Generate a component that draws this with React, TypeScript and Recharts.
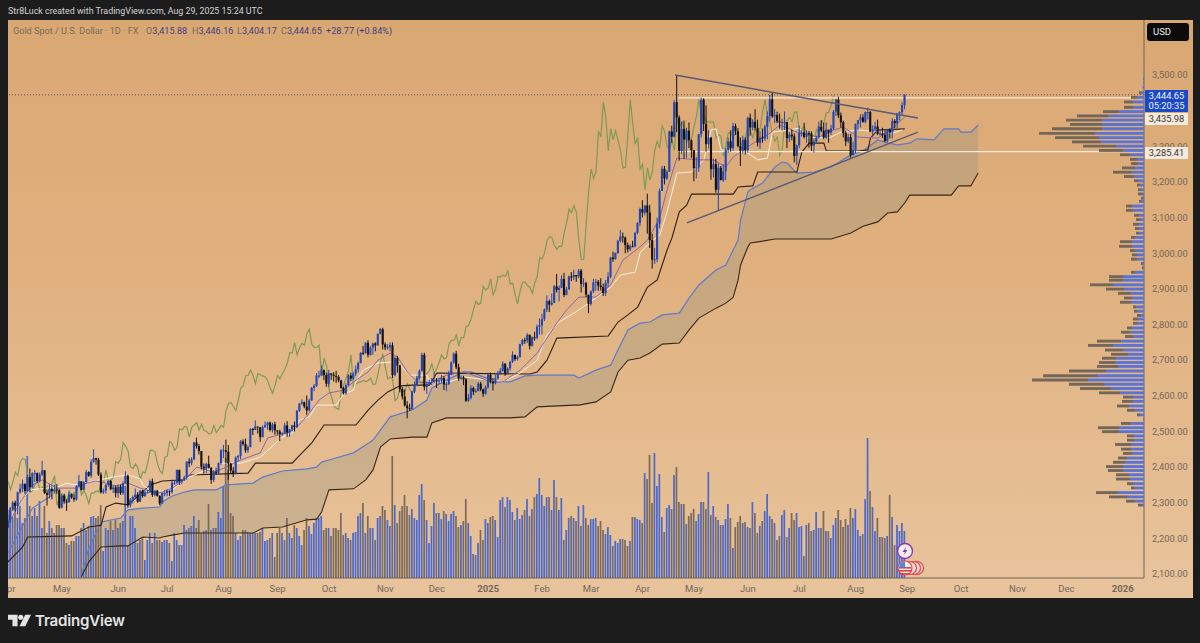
import {
  Area,
  Bar,
  BarChart,
  ComposedChart,
  Line,
  ReferenceLine,
  XAxis,
  YAxis,
} from "recharts";

// daily candles, Apr 2024 -> Aug 2025, one line per month
const opens = [
  2230,2250,2280,2300,2291,2329,2339,2353,2333,2372,2344,2383,2383,2361,2379,2391,2327,2322,2338,2332,2337,2335,
  2286,2320,2303,2302,2323,2314,2309,2346,2360,2336,2358,2386,2376,2415,2425,2421,2379,2329,2334,2350,2361,2338,2343,
  2327,2345,2327,2355,2376,2293,2310,2316,2323,2303,2333,2319,2329,2329,2360,2322,2334,2319,2298,2327,
  2327,2333,2330,2356,2356,2392,2359,2364,2371,2415,2411,2422,2469,2459,2445,2401,2396,2409,2398,2364,2387,2384,2411,
  2447,2447,2443,2410,2390,2382,2427,2431,2472,2465,2447,2456,2507,2504,2514,2512,2484,2512,2518,2525,2504,2520,
  2503,2500,2493,2495,2517,2497,2506,2517,2512,2558,2578,2582,2570,2559,2587,2622,2628,2657,2657,2672,2658,
  2634,2663,2659,2656,2653,2643,2622,2607,2630,2657,2648,2662,2674,2692,2721,2720,2749,2715,2735,2747,2742,2774,2787,
  2744,2736,2736,2742,2658,2706,2685,2619,2598,2573,2565,2562,2612,2631,2650,2670,2715,2625,2633,2638,2639,
  2643,2640,2643,2650,2632,2633,2660,2694,2718,2680,2648,2652,2646,2586,2594,2622,2612,2613,2634,2618,2606,
  2624,2659,2640,2635,2649,2663,2670,2690,2663,2677,2695,2715,2703,2708,2745,2756,2755,2771,2740,2764,2763,2794,
  2798,2815,2842,2866,2856,2861,2907,2897,2903,2928,2883,2899,2935,2933,2939,2935,2951,2914,2916,2884,
  2858,2893,2918,2920,2909,2905,2888,2917,2934,2988,2984,3001,3035,3047,3044,3023,3011,3020,3019,3057,3085,
  3124,3114,3134,3114,3037,2982,2983,3083,3175,3237,3210,3229,3342,3327,3424,3381,3287,3349,3319,3344,3317,
  3289,3239,3241,3334,3431,3363,3306,3325,3236,3250,3178,3240,3205,3230,3290,3314,3295,3357,3342,3301,3288,3318,
  3289,3380,3353,3369,3352,3310,3325,3322,3355,3385,3432,3384,3388,3370,3368,3368,3368,3323,3333,3328,3273,
  3303,3338,3339,3326,3337,3336,3302,3313,3325,3355,3344,3324,3347,3339,3350,3397,3431,3387,3368,3337,3314,3326,3275,
  3290,3363,3373,3381,3369,3396,3396,3341,3348,3356,3335,3336,3332,3315,3347,3339,3371,3365,3393,3396,3415.88,
];
const highs = [
  2266,2288,2305,2306,2331,2353,2365,2354,2379,2396,2385,2392,2385,2385,2417,2392,2335,2352,2345,2350,2352,2339,
  2326,2325,2310,2331,2326,2325,2349,2378,2360,2360,2392,2388,2422,2450,2426,2426,2385,2340,2352,2362,2364,2349,2349,
  2351,2351,2360,2388,2379,2313,2320,2340,2330,2336,2336,2333,2336,2365,2368,2335,2336,2321,2330,2335,
  2338,2335,2365,2364,2393,2393,2366,2376,2417,2425,2428,2471,2483,2465,2445,2410,2412,2432,2400,2392,2398,2413,2451,
  2462,2477,2462,2412,2400,2430,2434,2476,2478,2480,2461,2509,2510,2531,2513,2510,2517,2528,2527,2528,2525,2527,
  2504,2505,2498,2524,2529,2507,2519,2528,2560,2580,2590,2584,2601,2592,2625,2633,2664,2670,2685,2674,2665,
  2673,2663,2666,2670,2658,2645,2625,2635,2661,2665,2666,2685,2696,2722,2740,2750,2756,2740,2749,2750,2775,2790,2791,
  2750,2745,2750,2750,2710,2712,2687,2625,2618,2585,2578,2614,2640,2656,2674,2721,2721,2640,2645,2650,2665,
  2650,2650,2658,2655,2640,2670,2697,2722,2726,2690,2657,2656,2650,2605,2630,2626,2620,2639,2639,2620,2629,
  2665,2665,2650,2660,2670,2678,2697,2692,2680,2698,2725,2715,2713,2746,2760,2763,2776,2772,2767,2780,2800,2817,
  2830,2845,2882,2870,2887,2911,2942,2910,2938,2945,2905,2937,2947,2954,2939,2956,2956,2930,2920,2880,
  2895,2928,2928,2925,2930,2915,2925,2947,2990,3005,3002,3038,3065,3058,3047,3030,3025,3035,3060,3087,3128,
  3149,3135,3167,3136,3055,3015,3100,3181,3245,3245,3233,3344,3358,3430,3500,3387,3370,3372,3352,3367,3320,
  3290,3270,3335,3437,3435,3415,3345,3325,3265,3265,3252,3245,3250,3295,3325,3345,3366,3364,3351,3325,3330,3325,
  3383,3392,3376,3404,3375,3342,3350,3360,3398,3445,3452,3405,3397,3392,3378,3398,3368,3340,3348,3336,3305,
  3358,3345,3366,3345,3343,3342,3317,3330,3369,3374,3366,3367,3345,3360,3402,3433,3439,3395,3372,3344,3335,3335,3313,
  3364,3374,3390,3390,3398,3409,3399,3359,3369,3375,3348,3352,3345,3349,3351,3379,3376,3394,3398,3424,3446.16,
];
const lows = [
  2228,2243,2277,2275,2267,2325,2330,2325,2332,2330,2340,2358,2356,2357,2375,2325,2292,2312,2310,2325,2325,2283,
  2284,2297,2277,2300,2311,2303,2306,2345,2334,2337,2353,2373,2370,2412,2407,2375,2326,2325,2326,2345,2335,2327,2315,
  2314,2322,2322,2354,2286,2287,2298,2311,2300,2302,2314,2316,2326,2328,2316,2318,2317,2293,2297,2318,
  2318,2319,2325,2350,2353,2350,2352,2361,2365,2400,2405,2420,2452,2435,2393,2382,2383,2396,2353,2358,2378,2380,2406,
  2425,2410,2364,2380,2372,2380,2416,2422,2460,2440,2440,2456,2490,2504,2494,2471,2484,2510,2505,2500,2497,2491,
  2491,2473,2488,2493,2485,2485,2500,2500,2511,2555,2575,2565,2547,2556,2586,2613,2625,2650,2655,2644,2625,
  2625,2645,2640,2636,2638,2620,2604,2603,2628,2641,2645,2655,2665,2691,2714,2718,2708,2713,2715,2725,2740,2772,2730,
  2728,2730,2725,2650,2655,2665,2610,2590,2570,2537,2558,2562,2608,2627,2646,2668,2615,2605,2630,2630,2635,
  2622,2632,2634,2616,2613,2630,2658,2690,2675,2642,2646,2630,2583,2583,2590,2602,2609,2613,2613,2597,2603,
  2620,2635,2615,2632,2645,2660,2668,2656,2662,2670,2692,2698,2699,2708,2740,2746,2748,2730,2738,2755,2759,2772,
  2772,2810,2835,2835,2853,2860,2890,2865,2902,2877,2882,2897,2922,2925,2920,2930,2890,2905,2877,2832,
  2853,2888,2895,2895,2895,2880,2880,2905,2930,2976,2982,2998,3030,3030,3000,3002,3006,3017,3017,3053,3076,
  3100,3106,3055,3015,2957,2970,2975,3070,3175,3193,3205,3228,3310,3325,3340,3260,3278,3265,3268,3295,3268,
  3202,3210,3228,3325,3343,3285,3294,3206,3213,3170,3120,3205,3200,3205,3282,3285,3287,3332,3297,3245,3280,3277,
  3282,3330,3345,3345,3300,3293,3310,3315,3320,3370,3380,3365,3365,3350,3345,3346,3295,3312,3317,3255,3247,
  3295,3328,3322,3310,3296,3287,3282,3311,3322,3340,3320,3320,3310,3332,3346,3385,3380,3352,3325,3301,3309,3268,3281,
  3281,3345,3353,3366,3365,3375,3340,3332,3340,3332,3330,3323,3312,3311,3322,3322,3351,3351,3373,3385,3404.17,
];
const closes = [
  2250,2280,2300,2291,2329,2339,2353,2333,2372,2344,2383,2383,2361,2379,2391,2327,2322,2338,2332,2337,2335,2286,
  2320,2303,2302,2323,2314,2309,2346,2360,2336,2358,2386,2376,2415,2425,2421,2379,2329,2334,2350,2361,2338,2343,2327,
  2345,2327,2355,2376,2293,2310,2316,2323,2303,2333,2319,2329,2329,2360,2322,2334,2319,2298,2327,2327,
  2333,2330,2356,2356,2392,2359,2364,2371,2415,2411,2422,2469,2459,2445,2401,2396,2409,2398,2364,2387,2384,2411,2447,
  2447,2443,2410,2390,2382,2427,2431,2472,2465,2447,2456,2507,2504,2514,2512,2484,2512,2518,2525,2504,2520,2503,
  2500,2493,2495,2517,2497,2506,2517,2512,2558,2578,2582,2570,2559,2587,2622,2628,2657,2657,2672,2658,2634,
  2663,2659,2656,2653,2643,2622,2607,2630,2657,2648,2662,2674,2692,2721,2720,2749,2715,2735,2747,2742,2774,2787,2744,
  2736,2736,2742,2658,2706,2685,2619,2598,2573,2565,2562,2612,2631,2650,2670,2715,2625,2633,2638,2639,2643,
  2640,2643,2650,2632,2633,2660,2694,2718,2680,2648,2652,2646,2586,2594,2622,2612,2613,2634,2618,2606,2624,
  2659,2640,2635,2649,2663,2670,2690,2663,2677,2695,2715,2703,2708,2745,2756,2755,2771,2740,2764,2763,2794,2798,
  2815,2842,2866,2856,2861,2907,2897,2903,2928,2883,2899,2935,2933,2939,2935,2951,2914,2916,2884,2858,
  2893,2918,2920,2909,2905,2888,2917,2934,2988,2984,3001,3035,3047,3044,3023,3011,3020,3019,3057,3085,3124,
  3114,3134,3114,3037,2982,2983,3083,3175,3237,3210,3229,3342,3327,3424,3381,3287,3349,3319,3344,3317,3289,
  3239,3241,3334,3431,3363,3306,3325,3236,3250,3178,3240,3205,3230,3290,3314,3295,3357,3342,3301,3288,3318,3289,
  3380,3353,3369,3352,3310,3325,3322,3355,3385,3432,3384,3388,3370,3368,3368,3368,3323,3333,3328,3273,3303,
  3338,3339,3326,3337,3336,3302,3313,3325,3355,3344,3324,3347,3339,3350,3397,3431,3387,3368,3337,3314,3326,3275,3290,
  3363,3373,3381,3369,3396,3396,3341,3348,3356,3335,3336,3332,3315,3347,3339,3371,3365,3393,3396,3416,3444.65,
];
const volumes = [
  68,70,62,72,60,72,55,60,122,72,62,70,62,77,50,72,45,57,50,45,53,53,
  50,50,35,33,37,37,42,42,50,55,48,52,61,62,60,62,73,27,50,48,57,48,58,50,55,57,92,32,62,62,50,35,38,40,18,38,45,35,45,38,38,36,38,38,35,17,45,38,33,33,53,48,50,52,62,50,58,45,47,48,74,48,50,50,66,60,92,120,108,65,62,45,38,42,48,48,46,45,45,45,45,46,50,37,38,40,45,21,45,50,45,38,60,45,40,53,50,42,33,48,60,52,44,55,60,60,62,48,50,
  50,42,50,50,48,65,43,45,40,38,45,46,62,65,75,45,62,50,50,38,60,62,72,68,58,52,122,73,55,
  67,72,83,72,63,69,60,58,83,94,78,58,35,52,75,65,65,59,67,64,57,64,67,62,51,53,57,79,55,42,24,23,35,48,38,59,55,61,62,58,41,78,81,71,81,78,66,58,70,59,63,68,79,62,69,81,84,100,83,72,81,81,68,98,81,68,80,38,48,60,62,60,57,72,52,73,60,53,59,59,60,52,57,48,44,51,43,32,37,35,39,39,38,32,37,61,61,
  59,58,55,105,99,123,75,125,92,104,61,46,70,73,69,103,111,76,74,74,54,62,65,69,57,64,76,76,69,106,63,72,61,58,53,53,59,74,60,30,51,56,62,55,56,51,50,76,65,45,52,57,67,84,62,59,55,38,42,63,68,41,50,65,58,65,51,52,22,53,55,47,48,66,50,50,67,47,47,40,53,60,68,58,51,59,53,70,60,69,48,42,44,79,140,
  87,71,47,60,41,41,40,42,83,61,33,53,47,55,47,
];

// lagging span, the closes read back 29 bars
const laggingSpan = [
  2360,2336,2358,2386,2376,2415,2425,2421,2379,2329,2334,2350,2361,2338,2343,2327,
  2345,2327,2355,2376,2293,2310,2316,2323,2303,2333,2319,2329,2329,2360,2322,2334,2319,2298,2327,2327,
  2333,2330,2356,2356,2392,2359,2364,2371,2415,2411,2422,2469,2459,2445,2401,2396,2409,2398,2364,2387,2384,2411,2447,
  2447,2443,2410,2390,2382,2427,2431,2472,2465,2447,2456,2507,2504,2514,2512,2484,2512,2518,2525,2504,2520,2503,
  2500,2493,2495,2517,2497,2506,2517,2512,2558,2578,2582,2570,2559,2587,2622,2628,2657,2657,2672,2658,2634,
  2663,2659,2656,2653,2643,2622,2607,2630,2657,2648,2662,2674,2692,2721,2720,2749,2715,2735,2747,2742,2774,2787,2744,
  2736,2736,2742,2658,2706,2685,2619,2598,2573,2565,2562,2612,2631,2650,2670,2715,2625,2633,2638,2639,2643,
  2640,2643,2650,2632,2633,2660,2694,2718,2680,2648,2652,2646,2586,2594,2622,2612,2613,2634,2618,2606,2624,
  2659,2640,2635,2649,2663,2670,2690,2663,2677,2695,2715,2703,2708,2745,2756,2755,2771,2740,2764,2763,2794,2798,
  2815,2842,2866,2856,2861,2907,2897,2903,2928,2883,2899,2935,2933,2939,2935,2951,2914,2916,2884,2858,
  2893,2918,2920,2909,2905,2888,2917,2934,2988,2984,3001,3035,3047,3044,3023,3011,3020,3019,3057,3085,3124,
  3114,3134,3114,3037,2982,2983,3083,3175,3237,3210,3229,3342,3327,3424,3381,3287,3349,3319,3344,3317,3289,
  3239,3241,3334,3431,3363,3306,3325,3236,3250,3178,3240,3205,3230,3290,3314,3295,3357,3342,3301,3288,3318,3289,
  3380,3353,3369,3352,3310,3325,3322,3355,3385,3432,3384,3388,3370,3368,3368,3368,3323,3333,3328,3273,3303,
  3338,3339,3326,3337,3336,3302,3313,3325,3355,3344,3324,3347,3339,3350,3397,3431,3387,3368,3337,3314,3326,3275,3290,
  3363,3373,3381,3369,3396,3396,3341,3348,3356,3335,3336,3332,3315,3347,3339,3371,3365,3393,3396,3416,3444.65,
];

// ichimoku cloud, sampled where the lines bend
const cloudBars = [30,33,38,46,49,55,62,63,67,72,76,85,89,100,104,112,122,126,128,131,141,146,149,152,156,165,171,173,179,186,189,194,200,205,211,216,231,233,240,246,249,253,258,262,267,274,278,282,289,293,296,298,299,302,303,308,313,316,318,322,329,336,344,349,355,359,363,366,368,371,378,382,385,388,389,393,396];
const spanA = [2097,2173,2246,2257,2280,2285,2288,2302,2319,2330,2336,2336,2350,2355,2372,2389,2395,2400,2414,2420,2440,2462,2476,2504,2541,2560,2588,2622,2644,2667,2667,2653,2639,2639,2656,2658,2658,2650,2672,2686,2729,2785,2804,2807,2827,2832,2874,2911,2953,2967,3009,3037,3093,3172,3178,3197,3242,3256,3253,3225,3228,3242,3276,3287,3318,3309,3304,3307,3309,3321,3318,3349,3349,3349,3340,3340,3360];
const spanB = [2092,2134,2176,2179,2179,2204,2201,2204,2209,2215,2215,2215,2215,2215,2229,2232,2252,2254,2274,2336,2339,2364,2392,2456,2479,2484,2484,2524,2538,2538,2538,2538,2538,2538,2541,2569,2574,2574,2583,2611,2667,2700,2706,2720,2745,2748,2785,2818,2846,2860,2877,2925,2967,3018,3029,3034,3040,3040,3040,3040,3040,3040,3057,3076,3088,3113,3116,3141,3163,3163,3163,3163,3163,3189,3189,3189,3225];

// short blue stretch at the far left, before the cloud starts
const earlyBars = [0,5,10,15,18];
const earlyLine = [2159,2223,2285,2308,2322];

const baseBars = [0,6,8,26,33,38,40,44,49,58,63,72,74,98,101,116,120,124,129,142,147,151,155,160,165,172,175,213,216,220,224,245,249,253,257,261,265,269,271,274,277,279,296,298,304,306,322,324,327,333,334,347,351,352,355,366];
const baseLine = [2134,2176,2204,2207,2232,2237,2288,2299,2294,2350,2361,2364,2378,2383,2411,2411,2440,2468,2518,2518,2560,2588,2611,2628,2630,2630,2664,2661,2667,2700,2762,2768,2807,2827,2849,2905,2925,3009,3043,3116,3135,3166,3166,3186,3189,3228,3228,3284,3309,3309,3287,3287,3290,3323,3346,3349];

const conversionBars = [1,4,9,20,24,27,33,43,49,54,55,58,66,73,81,85,87,95,103,112,116,119,123,126,134,137,141,142,145,151,157,160,164,171,172,180,186,202,209,216,218,220,225,231,237,246,250,256,258,261,266,269,273,279,284,287,289,291,302,306,310,312,319,323,326,335,340,347,361,365];
const conversionLine = [2252,2294,2336,2344,2355,2350,2358,2372,2378,2367,2350,2336,2330,2369,2392,2392,2411,2411,2428,2484,2496,2532,2541,2574,2574,2605,2616,2639,2672,2692,2695,2686,2658,2658,2639,2639,2653,2639,2664,2700,2737,2771,2807,2832,2860,2905,2939,2947,3001,3023,3051,3116,3225,3228,3262,3346,3349,3290,3281,3262,3267,3340,3346,3351,3326,3323,3340,3346,3337,3346];

const maBars = [1,5,10,14,20,28,32,36,40,44,49,54,61,63,67,72,77,84,88,95,103,106,114,118,123,127,131,137,141,147,151,156,159,163,167,172,179,186,193,197,202,209,216,224,228,233,240,246,251,258,261,266,269,273,282,288,293,296,303,311,315,323,331,337,341,347,355,361,366];
const maLine = [2252,2302,2350,2364,2341,2341,2355,2361,2355,2347,2355,2341,2327,2330,2341,2364,2400,2386,2397,2420,2440,2482,2496,2512,2552,2588,2608,2616,2639,2667,2700,2720,2709,2667,2639,2636,2658,2667,2650,2639,2639,2672,2720,2804,2841,2877,2877,2911,2981,3018,3037,3099,3178,3267,3262,3262,3242,3270,3304,3337,3360,3337,3326,3346,3354,3326,3323,3351,3382];

// volume profile rows down the right side
const profilePrices = [3490,3478,3465,3450,3437,3424,3409,3397,3385,3373,3361,3349,3336,3324,3312,3300,3288,3276,3263,3251,3239,3227,3215,3203,3191,3178,3166,3154,3145,3132,3120,3106,3094,3081,3069,3056,3044,3032,3019,3007,2995,2983,2971,2959,2946,2934,2924,2911,2899,2887,2874,2862,2849,2837,2825,2815,2803,2790,2778,2766,2753,2741,2728,2716,2705,2693,2682,2669,2656,2644,2632,2620,2608,2596,2584,2571,2559,2546,2534,2522,2510,2499,2487,2475,2463,2450,2438,2425,2413,2401,2390,2378,2366,2353,2341,2328,2316,2304,2293];
const profileUp = [1,1,1.5,3,7,11,11,25,36,42,42,42,49,45,43,28,21,14,7,6,9,13,10,6,4,3,2,1,3,12,11,5,4,5,5,5,9,12,12,9,7,7,1,1,9,21,21,31,20,13,12,13,8,7,3,6,7,12,14,11,23,31,21,16,28,29,26,38,47,56,40,33,24,11,11,15,9,4,1,13,25,25,10,10,13,13,12,17,19,21,21,15,14,11,9,27,17,9,2];
const profileDown = [0,0,0,2,6,9,9,16,31,36,32,50,56,44,29,33,24,10,7,7,13,18,10,4,3,3,4,2,2,6,7,5,4,6,4,3,4,12,13,5,5,6,2,1,4,14,14,23,18,13,8,11,3,3,4,5,4,5,9,8,24,25,18,17,14,16,21,37,54,56,35,31,21,10,11,12,8,3,0,10,21,17,7,7,16,10,9,9,12,17,15,13,14,6,4,21,18,9,4];

const monthBars = [0,22,45,65,88,110,131,154,175,196,218,238,259,280,302,323,346,367,389,412,432,455];
const monthLabels = ["Apr","May","Jun","Jul","Aug","Sep","Oct","Nov","Dec","2025","Feb","Mar","Apr","May","Jun","Jul","Aug","Sep","Oct","Nov","Dec","2026"];
// 3,400 sits fully under the last-price tag in the reference
const priceTicks = [2100,2200,2300,2400,2500,2600,2700,2800,2900,3000,3100,3200,3300,3500];

const LAST_PRICE = 3444.65;
const RESISTANCE = 3435.98;
const SUPPORT = 3285.41;
const X_MAX = 463.67;
const PRICE_DOMAIN: [number, number] = [2088.8, 3654.5];
const FONT = "Roboto, sans-serif";

const chartData = Array.from({ length: 397 }, (_, bar) => {
  const cloudAt = cloudBars.indexOf(bar);
  const baseAt = baseBars.indexOf(bar);
  const conversionAt = conversionBars.indexOf(bar);
  const maAt = maBars.indexOf(bar);
  const earlyAt = earlyBars.indexOf(bar);
  const hasCandle = bar < closes.length;
  return {
    bar,
    open: hasCandle ? opens[bar] : null,
    high: hasCandle ? highs[bar] : null,
    low: hasCandle ? lows[bar] : null,
    close: hasCandle ? closes[bar] : null,
    range: hasCandle ? [lows[bar], highs[bar]] : null,
    volume: hasCandle ? volumes[bar] : null,
    lagging: bar < laggingSpan.length ? laggingSpan[bar] : null,
    early: earlyAt >= 0 ? earlyLine[earlyAt] : null,
    spanA: cloudAt >= 0 ? spanA[cloudAt] : null,
    spanB: cloudAt >= 0 ? spanB[cloudAt] : null,
    cloud: cloudAt >= 0 ? [spanB[cloudAt], spanA[cloudAt]] : null,
    base: baseAt >= 0 ? baseLine[baseAt] : null,
    conversion: conversionAt >= 0 ? conversionLine[conversionAt] : null,
    ma: maAt >= 0 ? maLine[maAt] : null,
  };
});

const profileData = profilePrices.map((price, i) => ({
  price,
  up: profileUp[i],
  down: profileDown[i],
}));

function Candle({ x, y, width, height, payload }: any) {
  if (payload.high == null || !height) return null;
  const perPrice = height / (payload.high - payload.low);
  const top = y + (payload.high - Math.max(payload.open, payload.close)) * perPrice;
  const bodyHeight = Math.max(Math.abs(payload.open - payload.close) * perPrice, 1);
  const color = payload.close >= payload.open ? "#2146b8" : "#14110e";
  return (
    <g>
      <rect x={x + width / 2 - 0.5} y={y} width={1} height={height} fill={color} />
      <rect x={x} y={top} width={width} height={bodyHeight} fill={color} />
    </g>
  );
}

function VolumeBar({ x, y, width, height, payload }: any) {
  if (payload.volume == null) return null;
  const color = payload.close >= payload.open ? "#4b68cc" : "#7b6a59";
  return <rect x={x} y={y} width={width} height={height} fill={color} />;
}

function MonthTick({ x, y, payload }: any) {
  const label = monthLabels[monthBars.indexOf(payload.value)];
  const isYear = label.length === 4;
  return (
    <text
      x={x}
      y={y + 6}
      textAnchor="middle"
      fontFamily={FONT}
      fontSize={9.5}
      fontWeight={isYear ? 700 : 400}
      fill="#74675a"
    >
      {label}
    </text>
  );
}

function PriceLabel({ top, height, bg, color, lines }: any) {
  return (
    <div
      style={{
        position: "absolute",
        left: 1145,
        top,
        width: 43,
        height,
        background: bg,
        color,
        fontFamily: FONT,
        fontSize: 9.3,
        lineHeight: "10px",
        textAlign: "center",
        paddingTop: 1,
        boxSizing: "border-box",
      }}
    >
      {lines.map((t: string) => (
        <div key={t}>{t}</div>
      ))}
    </div>
  );
}

function EventBadges() {
  return (
    <svg
      width={40}
      height={40}
      style={{ position: "absolute", left: 893, top: 540 }}
      viewBox="893 540 40 40"
    >
      <circle cx={917} cy={568} r={6.5} fill="#f8d9d0" stroke="#e2404a" strokeWidth={1.2} />
      <circle cx={914} cy={568} r={6.5} fill="#f8d9d0" stroke="#e2404a" strokeWidth={1.2} />
      <circle cx={910} cy={568} r={6.5} fill="#f8d9d0" stroke="#e2404a" strokeWidth={1.2} />
      <circle cx={905} cy={551} r={7.5} fill="#f5efe9" stroke="#8e35b5" strokeWidth={1.4} />
      <path d="M906.5 546.5 L902.5 552 L905 552 L903.5 555.5 L907.5 550 L905 550 Z" fill="#8e35b5" />
      <circle cx={905} cy={568} r={7} fill="#f6f0ec" stroke="#e2404a" strokeWidth={1.2} />
      <rect x={899} y={567} width={12} height={1.6} fill="#e2404a" />
      <rect x={899} y={570} width={12} height={1.6} fill="#e2404a" />
      <rect x={900} y={573} width={10} height={1.4} fill="#e2404a" />
      <path d="M899 567.5 A6.5 6.5 0 0 1 905 561.8 L905 567.5 Z" fill="#3f8ee0" />
    </svg>
  );
}

function Logo() {
  return (
    <div style={{ position: "absolute", left: 8, top: 611, display: "flex", alignItems: "center" }}>
      <svg width={23} height={13} viewBox="0 0 36 20">
        <path d="M0 1 H15 V19 H7 V9 H0 Z" fill="#e4e4e4" />
        <circle cx={20} cy={5} r={4} fill="#e4e4e4" />
        <path d="M27 1 H36 L27 19 H18 Z" fill="#e4e4e4" />
      </svg>
      <span
        style={{
          marginLeft: 4,
          color: "#e4e4e4",
          fontFamily: '"Inter", sans-serif',
          fontSize: 15.1,
          fontWeight: 600,
          letterSpacing: -0.2,
        }}
      >
        TradingView
      </span>
    </div>
  );
}

function LegendItem({ left, letter, text }: any) {
  return (
    <span style={{ position: "absolute", left, top: 0 }}>
      {letter}
      <span style={{ color: "#3f3f86" }}>{text}</span>
    </span>
  );
}

function Legend() {
  return (
    <div
      style={{
        position: "absolute",
        left: 0,
        top: 24,
        width: 500,
        height: 14,
        fontFamily: FONT,
        fontSize: 9.1,
        lineHeight: "14px",
        color: "#776a5c",
        whiteSpace: "pre",
      }}
    >
      <LegendItem left={13} letter="Gold Spot / U.S. Dollar · 1D · FX" text="" />
      <LegendItem left={146} letter="O" text="3,415.88" />
      <LegendItem left={192} letter="H" text="3,446.16" />
      <LegendItem left={237} letter="L" text="3,404.17" />
      <LegendItem left={281} letter="C" text="3,444.65" />
      <LegendItem left={326} letter="" text="+28.77 (+0.84%)" />
    </div>
  );
}

export default function App() {
  return (
    <div
      style={{
        position: "fixed",
        left: 0,
        top: 0,
        width: 1200,
        height: 643,
        background: "#1c1c1c",
        overflow: "hidden",
      }}
    >
      <div
        style={{
          position: "absolute",
          left: 8,
          top: 3,
          color: "#d4d4d4",
          fontFamily: FONT,
          fontSize: 8.9,
          lineHeight: "16px",
        }}
      >
        Str8Luck created with TradingView.com, Aug 29, 2025 15:24 UTC
      </div>

      <div
        style={{
          position: "absolute",
          left: 8,
          top: 20,
          width: 1185,
          height: 578,
          background: "linear-gradient(180deg, #d9a772 0%, #e0b17f 45%, #e8c49d 100%)",
        }}
      />

      <div style={{ position: "absolute", left: 8, top: 20 }}>
        <ComposedChart
          width={1185}
          height={578}
          data={chartData}
          margin={{ top: 0, right: 0, left: 0, bottom: 0 }}
        >
          <XAxis
            dataKey="bar"
            type="number"
            domain={[0, X_MAX]}
            ticks={monthBars}
            interval={0}
            tick={<MonthTick />}
            tickLine={false}
            axisLine={{ stroke: "#6f6559" }}
            height={20}
          />
          <YAxis
            yAxisId="price"
            orientation="right"
            type="number"
            domain={PRICE_DOMAIN}
            ticks={priceTicks}
            interval={0}
            width={49}
            tickLine={false}
            axisLine={{ stroke: "#6f6559" }}
            tick={{ fontSize: 9.3, fill: "#74675a", fontFamily: FONT }}
            tickFormatter={(v) => v.toLocaleString("en-US", { minimumFractionDigits: 2 })}
          />
          <YAxis yAxisId="volume" hide type="number" domain={[0, 558]} />

          <Bar
            yAxisId="volume"
            dataKey="volume"
            barSize={1.7}
            shape={<VolumeBar />}
            isAnimationActive={false}
          />
          <Area
            yAxisId="price"
            dataKey="cloud"
            stroke="none"
            fill="#7f8a80"
            fillOpacity={0.26}
            connectNulls
            isAnimationActive={false}
          />
          <Line yAxisId="price" dataKey="lagging" stroke="#7f9a57" strokeWidth={1.2} dot={false} isAnimationActive={false} />
          <Line yAxisId="price" dataKey="early" stroke="#5f7ac8" strokeWidth={1.2} dot={false} connectNulls isAnimationActive={false} />
          <Line yAxisId="price" dataKey="spanA" stroke="#5f7ac8" strokeWidth={1.2} dot={false} connectNulls isAnimationActive={false} />
          <Line yAxisId="price" dataKey="spanB" stroke="#3a2817" strokeWidth={1.1} dot={false} connectNulls isAnimationActive={false} />
          <Line yAxisId="price" dataKey="base" stroke="#2e2014" strokeWidth={1.1} dot={false} connectNulls isAnimationActive={false} />
          <Line yAxisId="price" dataKey="conversion" stroke="#f9f1e5" strokeWidth={1} dot={false} connectNulls isAnimationActive={false} />
          <Line yAxisId="price" dataKey="ma" stroke="#8d66a9" strokeWidth={1} dot={false} connectNulls isAnimationActive={false} />

          <ReferenceLine yAxisId="price" y={LAST_PRICE} stroke="#5d5348" strokeDasharray="1 2" />
          <ReferenceLine
            yAxisId="price"
            segment={[{ x: 273.5, y: RESISTANCE }, { x: X_MAX, y: RESISTANCE }]}
            stroke="#f6ecdf"
            strokeWidth={1.2}
          />
          <ReferenceLine
            yAxisId="price"
            segment={[{ x: 273.5, y: SUPPORT }, { x: X_MAX, y: SUPPORT }]}
            stroke="#f6ecdf"
            strokeWidth={1.2}
          />
        </ComposedChart>
      </div>

      {/* candles and trendlines on their own layer so they sit above the indicator lines */}
      <div style={{ position: "absolute", left: 8, top: 20 }}>
        <ComposedChart
          width={1185}
          height={578}
          data={chartData}
          margin={{ top: 0, right: 49, left: 0, bottom: 20 }}
        >
          <XAxis dataKey="bar" type="number" hide domain={[0, X_MAX]} />
          <YAxis type="number" hide domain={PRICE_DOMAIN} />
          <Bar dataKey="range" barSize={2.1} shape={<Candle />} isAnimationActive={false} />
          <ReferenceLine
            segment={[{ x: 272.3, y: 3500 }, { x: 371.4, y: 3379.5 }]}
            stroke="#5a5875"
            strokeWidth={1.4}
          />
          <ReferenceLine
            segment={[{ x: 277.1, y: 3085 }, { x: 371.4, y: 3340 }]}
            stroke="#5a5875"
            strokeWidth={1.4}
          />
        </ComposedChart>
      </div>

      <div style={{ position: "absolute", left: 8, top: 20 }}>
        <BarChart
          layout="vertical"
          width={1136}
          height={558}
          data={profileData}
          margin={{ top: 0, right: 0, left: 0, bottom: 0 }}
        >
          <XAxis type="number" hide reversed domain={[0, 1136]} />
          <YAxis dataKey="price" type="number" hide reversed width={0} domain={PRICE_DOMAIN} />
          <Bar dataKey="up" stackId="profile" fill="#5b74d4" barSize={3.4} isAnimationActive={false} />
          <Bar dataKey="down" stackId="profile" fill="#75665a" barSize={3.4} isAnimationActive={false} />
        </BarChart>
      </div>

      <Legend />
      <EventBadges />
      <Logo />

      <div
        style={{
          position: "absolute",
          left: 1147,
          top: 23,
          width: 42,
          height: 18,
          borderRadius: 3,
          background: "#0b0b0b",
          color: "#e8e8e8",
          fontFamily: FONT,
          fontSize: 9.5,
          lineHeight: "18px",
          paddingLeft: 6,
          boxSizing: "border-box",
        }}
      >
        USD
      </div>
      <PriceLabel top={90} height={22} bg="#1a49c8" color="#f2f2f2" lines={["3,444.65", "05:20:35"]} />
      <PriceLabel top={113} height={12} bg="#f3ebdf" color="#3a3530" lines={["3,435.98"]} />
      <PriceLabel top={147} height={12} bg="#f3ebdf" color="#3a3530" lines={["3,285.41"]} />
    </div>
  );
}
